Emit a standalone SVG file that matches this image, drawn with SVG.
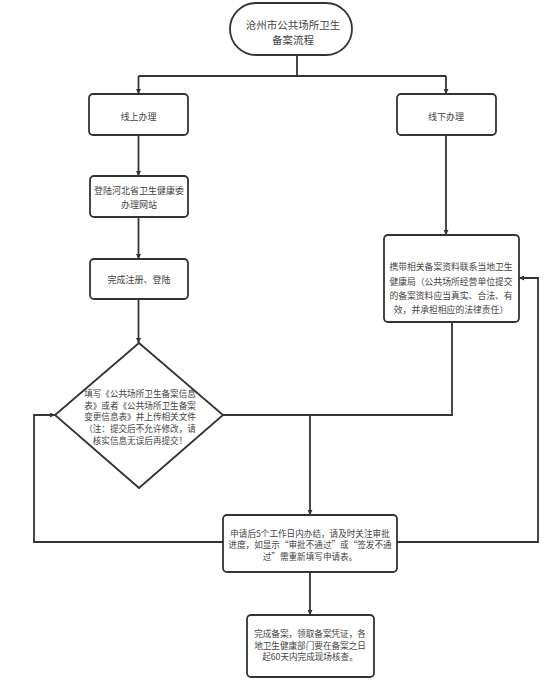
<svg xmlns="http://www.w3.org/2000/svg" width="550" height="697" viewBox="0 0 550 697">
<style>
.n{fill:#fff;stroke:#333;stroke-width:1.8}
.c{fill:none;stroke:#333;stroke-width:1.8}
text{font-family:"Noto Sans CJK SC","Noto Sans",sans-serif;fill:#444;text-anchor:middle;dominant-baseline:central}
.t1{font-size:10.5px}
.t2{font-size:9px}
.t4{font-size:8.8px}
.t3{font-size:8.6px}
</style>
<defs>
<marker id="a" viewBox="0 0 10 10" refX="10" refY="5" markerWidth="5" markerHeight="5" orient="auto" markerUnits="userSpaceOnUse">
<path d="M0,0 L10,5 L0,10 z" fill="#333"/>
</marker>
</defs>
<rect width="550" height="697" fill="#fff"/>
<g id="connectors">
<path class="c" d="M297,55 V76 M138.5,76 H446"/>
<path class="c" d="M138.5,76 V94" marker-end="url(#a)"/>
<path class="c" d="M446,76 V94" marker-end="url(#a)"/>
<path class="c" d="M138.5,135 V176" marker-end="url(#a)"/>
<path class="c" d="M138.5,217 V259" marker-end="url(#a)"/>
<path class="c" d="M138.5,299 V343" marker-end="url(#a)"/>
<path class="c" d="M446,135 V235" marker-end="url(#a)"/>
<path class="c" d="M452,322 V415 H223"/>
<path class="c" d="M310,415 V515" marker-end="url(#a)"/>
<path class="c" d="M223,542 H34 V415 H55" marker-end="url(#a)"/>
<path class="c" d="M397,542 H538 V278 H519" marker-end="url(#a)"/>
<path class="c" d="M310,572 V615" marker-end="url(#a)"/>
</g>
<g id="start">
<rect class="n" x="230" y="3" width="122" height="52" rx="26"/>
<text class="t1" x="293" y="24">沧州市公共场所卫生</text>
<text class="t1" x="293" y="39">备案流程</text>
</g>
<g id="online">
<rect class="n" x="89" y="94" width="99" height="41" rx="4"/>
<text class="t2" x="138.5" y="116">线上办理</text>
</g>
<g id="offline">
<rect class="n" x="397" y="94" width="99" height="41" rx="4"/>
<text class="t2" x="446" y="116">线下办理</text>
</g>
<g id="login">
<rect class="n" x="90" y="176" width="98" height="41" rx="4"/>
<text class="t2" x="139" y="190">登陆河北省卫生健康委</text>
<text class="t2" x="139" y="204">办理网站</text>
</g>
<g id="register">
<rect class="n" x="90" y="259" width="98" height="40" rx="4"/>
<text class="t2" x="139" y="279">完成注册、登陆</text>
</g>
<g id="offline-detail">
<rect class="n" x="384" y="235" width="135" height="87" rx="4"/>
<text class="t4" x="451" y="266.5">携带相关备案资料联系当地卫生</text>
<text class="t4" x="451" y="281">健康局（公共场所经营单位提交</text>
<text class="t4" x="451" y="295">的备案资料应当真实、合法、有</text>
<text class="t4" x="451" y="309">效，并承担相应的法律责任）</text>
</g>
<g id="fill-form">
<polygon class="n" points="139,343 223,415 139,488 55,415"/>
<text class="t3" x="140" y="393">填写《公共场所卫生备案信息</text>
<text class="t3" x="140" y="404.5">表》或者《公共场所卫生备案</text>
<text class="t3" x="140" y="416">变更信息表》并上传相关文件</text>
<text class="t3" x="140" y="428">（注：提交后不允许修改，请</text>
<text class="t3" x="140" y="439.5">核实信息无误后再提交！</text>
</g>
<g id="review">
<rect class="n" x="223" y="515" width="174" height="57" rx="4"/>
<text class="t3" x="310" y="532.5">申请后5个工作日内办结，请及时关注审批</text>
<text class="t3" x="310" y="544">进度，如显示“审批不通过”或“签发不通</text>
<text class="t3" x="310" y="555.5">过”需重新填写申请表。</text>
</g>
<g id="done">
<rect class="n" x="247" y="615" width="127" height="62" rx="4"/>
<text class="t3" x="310" y="633">完成备案，领取备案凭证，各</text>
<text class="t3" x="310" y="644.5">地卫生健康部门要在备案之日</text>
<text class="t3" x="310" y="656">起60天内完成现场核查。</text>
</g>
</svg>
